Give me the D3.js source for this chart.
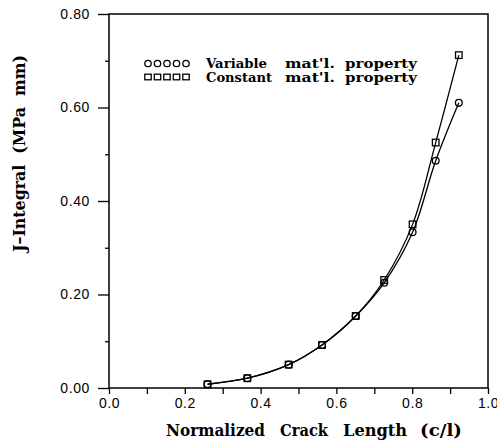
<!DOCTYPE html>
<html>
<head>
<meta charset="utf-8">
<script src="https://cdn.jsdelivr.net/npm/d3@7"></script>
<style>
  body { margin: 0; background: #fff; }
  .tick text { font-family: "Liberation Sans", Arial, sans-serif; font-size: 14px; letter-spacing: 0.6px; fill: #000; }
  .tick line { stroke: #000; stroke-width: 1.3; }
  .title { font-family: "DejaVu Serif", serif; font-weight: bold; fill: #000; }
</style>
</head>
<body>
<script>
// data
var crackLength = [0.26, 0.365, 0.474, 0.562, 0.651, 0.726, 0.801, 0.862, 0.923];
var jVariable   = [0.008, 0.021, 0.050, 0.092, 0.154, 0.225, 0.333, 0.486, 0.610];
var jConstant   = [0.008, 0.021, 0.050, 0.092, 0.154, 0.231, 0.350, 0.525, 0.712];

var xTicks = [0.0, 0.1, 0.2, 0.3, 0.4, 0.5, 0.6, 0.7, 0.8, 0.9, 1.0];
var yTicks = [0.00, 0.20, 0.40, 0.60, 0.80];
var yMinorTicks = [0.10, 0.30, 0.50, 0.70];

var legendNames = [["Variable", "mat'l.", "property"], ["Constant", "mat'l.", "property"]];
var xTitle = ["Normalized", "Crack", "Length", "(c/l)"];
var yTitle = "J\u2013Integral  (MPa  mm)";

var svg = d3.select("body")
    .append("svg")
    .attr("width", 497)
    .attr("height", 442);

var xScale = d3.scaleLinear()
    .domain([0, 1])
    .range([109, 488]);

var yScale = d3.scaleLinear()
    .domain([0, 0.8])
    .range([388, 14]);

// x axis, labels on every other tick
var xAxis = d3.axisBottom(xScale)
    .tickValues(xTicks)
    .tickSize(6)
    .tickPadding(4)
    .tickFormat(function(d, i) { return i % 2 === 0 ? d3.format(".1f")(d) : ""; });

svg.append("g")
    .attr("transform", "translate(0,388)")
    .call(xAxis)
    .call(function(g) { g.select(".domain").remove(); });

var yAxis = d3.axisLeft(yScale)
    .tickValues(yTicks)
    .tickSize(11)
    .tickPadding(8)
    .tickFormat(d3.format(".2f"));

svg.append("g")
    .attr("transform", "translate(109,0)")
    .call(yAxis)
    .call(function(g) { g.select(".domain").remove(); });

svg.append("g")
    .attr("transform", "translate(109,0)")
    .call(d3.axisLeft(yScale).tickValues(yMinorTicks).tickSize(4).tickFormat(""))
    .call(function(g) { g.select(".domain").remove(); });

// frame
svg.append("rect")
    .attr("x", xScale(0))
    .attr("y", yScale(0.8))
    .attr("width", xScale(1) - xScale(0))
    .attr("height", yScale(0) - yScale(0.8))
    .attr("fill", "none")
    .attr("stroke", "#000")
    .attr("stroke-width", 1.5);

// curves
var line = d3.line()
    .x(function(d) { return xScale(d[0]); })
    .y(function(d) { return yScale(d[1]); })
    .curve(d3.curveCatmullRom.alpha(0.5));

var varData = d3.zip(crackLength, jVariable);
var conData = d3.zip(crackLength, jConstant);

[varData, conData].forEach(function(data) {
    svg.append("path")
        .datum(data)
        .attr("d", line)
        .attr("fill", "none")
        .attr("stroke", "#000")
        .attr("stroke-width", 1.3);
});

svg.selectAll("circle.pt")
    .data(varData)
    .enter()
    .append("circle")
    .attr("class", "pt")
    .attr("cx", function(d) { return xScale(d[0]); })
    .attr("cy", function(d) { return yScale(d[1]); })
    .attr("r", 3.4)
    .attr("fill", "none")
    .attr("stroke", "#000")
    .attr("stroke-width", 1.3);

svg.selectAll("rect.pt")
    .data(conData)
    .enter()
    .append("rect")
    .attr("class", "pt")
    .attr("x", function(d) { return xScale(d[0]) - 3.3; })
    .attr("y", function(d) { return yScale(d[1]) - 3.3; })
    .attr("width", 6.6)
    .attr("height", 6.6)
    .attr("fill", "none")
    .attr("stroke", "#000")
    .attr("stroke-width", 1.3);

// legend
var legendWordX = [[206, 61], [285, 50], [345, 72]];
var legendWordX2 = [[206, 66], [285, 50], [345, 72]];
var legendRows = [63.5, 77];
var dots = [0, 1, 2, 3, 4];

legendNames.forEach(function(words, row) {
    var cy = legendRows[row];
    var g = svg.append("g");
    dots.forEach(function(k) {
        var cx = 148 + k * 9.5;
        if (row === 0) {
            g.append("circle").attr("cx", cx).attr("cy", cy).attr("r", 3.2)
                .attr("fill", "none").attr("stroke", "#000").attr("stroke-width", 1.3);
        } else {
            g.append("rect").attr("x", cx - 3.2).attr("y", cy - 2.8).attr("width", 6.4).attr("height", 5.6)
                .attr("fill", "none").attr("stroke", "#000").attr("stroke-width", 1.3);
        }
    });
    var pos = row === 0 ? legendWordX : legendWordX2;
    words.forEach(function(w, i) {
        g.append("text")
            .attr("class", "title")
            .attr("x", pos[i][0])
            .attr("y", cy + 4.6)
            .attr("font-size", 13)
            .attr("textLength", pos[i][1])
            .attr("lengthAdjust", "spacingAndGlyphs")
            .text(w);
    });
});

// axis titles
var xTitlePos = [[166, 99], [280, 48], [343, 64], [420, 42]];
xTitle.forEach(function(w, i) {
    svg.append("text")
        .attr("class", "title")
        .attr("x", xTitlePos[i][0])
        .attr("y", 436)
        .attr("font-size", 16)
        .attr("textLength", xTitlePos[i][1])
        .attr("lengthAdjust", "spacingAndGlyphs")
        .text(w);
});

svg.append("text")
    .attr("class", "title")
    .attr("transform", "translate(25,252) rotate(-90)")
    .attr("x", 0)
    .attr("y", 0)
    .attr("font-size", 16)
    .attr("textLength", 197)
    .attr("lengthAdjust", "spacingAndGlyphs")
    .style("white-space", "pre")
    .text(yTitle);
</script>
</body>
</html>
